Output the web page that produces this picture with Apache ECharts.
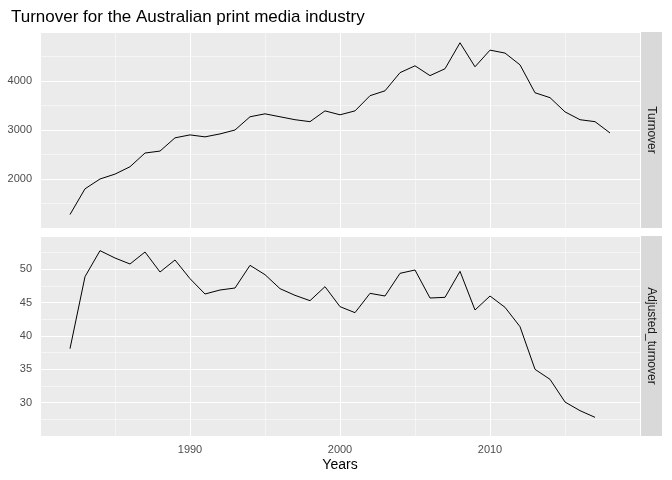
<!DOCTYPE html>
<html>
<head>
<meta charset="utf-8">
<script src="https://cdn.jsdelivr.net/npm/echarts@6/dist/echarts.min.js"></script>
<style>body{margin:0}#main{width:672px;height:480px}</style>
</head>
<body>
<div id="main"></div>
<script>
var yearsTop = [];
for (var y = 1982; y <= 2018; y++) yearsTop.push(y);
var turnover = [1275,1800,2000,2100,2250,2530,2570,2840,2900,2860,2920,3000,3270,3330,3270,3210,3170,3390,3310,3390,
  3700,3800,4170,4310,4110,4250,4780,4290,4630,4570,4330,3760,3660,3370,3210,3170,2940];
var adjusted = [38.1,48.9,52.8,51.7,50.8,52.6,49.6,51.4,48.6,46.3,46.9,47.2,50.6,49.2,47.1,46.1,45.3,47.4,44.4,43.5,
  46.4,46.0,49.4,49.9,45.7,45.8,49.7,43.9,46.0,44.3,41.4,35.0,33.5,30.1,28.8,27.8];

function pairs(xs, vs) { return vs.map(function (v, i) { return [xs[i], v]; }); }

var chart = echarts.init(document.getElementById('main'));
var lineMajor = {show: true, lineStyle: {color: '#fff', width: 1.1}};
var lineMinor = {show: true, lineStyle: {color: '#fff', width: 0.5}};
function xAxis(idx, showLabel) {
  return {
    type: 'value', gridIndex: idx, min: 1980, max: 2020, interval: 10,
    axisLine: {show: false}, axisTick: {show: false},
    minorTick: {show: false, splitNumber: 2}, minorSplitLine: lineMinor, splitLine: lineMajor,
    axisLabel: {show: showLabel, color: '#4d4d4d', fontSize: 11,
      formatter: function (v) { return (v == 1980 || v == 2020) ? '' : v; }},
    name: showLabel ? 'Years' : '', nameLocation: 'middle', nameGap: 22,
    nameTextStyle: {color: '#000', fontSize: 14}
  };
}
chart.setOption({
  animation: false,
  title: {text: 'Turnover for the Australian print media industry', left: 6, top: 4,
    textStyle: {color: '#000', fontSize: 17, fontWeight: 'normal'}},
  grid: [
    {left: 40, right: 32, top: 32, height: 196, backgroundColor: '#ebebeb', show: true, borderWidth: 0},
    {left: 40, right: 32, top: 236, height: 200, backgroundColor: '#ebebeb', show: true, borderWidth: 0}
  ],
  xAxis: [xAxis(0, false), xAxis(1, true)],
  yAxis: [
    {type: 'value', gridIndex: 0, min: 1000, max: 5000, interval: 1000,
      axisLine: {show: false}, axisTick: {show: false},
      minorTick: {show: false, splitNumber: 2}, minorSplitLine: lineMinor, splitLine: lineMajor,
      axisLabel: {color: '#4d4d4d', fontSize: 11, formatter: function (v) { return (v == 1000 || v == 5000) ? '' : v; }}},
    {type: 'value', gridIndex: 1, min: 25, max: 55, interval: 5,
      axisLine: {show: false}, axisTick: {show: false},
      minorTick: {show: false, splitNumber: 2}, minorSplitLine: lineMinor, splitLine: lineMajor,
      axisLabel: {color: '#4d4d4d', fontSize: 11, formatter: function (v) { return (v == 25 || v == 55) ? '' : v; }}}
  ],
  series: [
    {type: 'line', xAxisIndex: 0, yAxisIndex: 0, data: pairs(yearsTop, turnover), showSymbol: false,
      lineStyle: {color: '#000', width: 1}},
    {type: 'line', xAxisIndex: 1, yAxisIndex: 1, data: pairs(yearsTop, adjusted), showSymbol: false,
      lineStyle: {color: '#000', width: 1}}
  ],
  graphic: [
    {type: 'rect', shape: {x: 640, y: 32, width: 22, height: 196}, style: {fill: '#d9d9d9'}},
    {type: 'rect', shape: {x: 640, y: 236, width: 22, height: 200}, style: {fill: '#d9d9d9'}},
    {type: 'text', x: 651, y: 130, rotation: -Math.PI / 2,
      style: {text: 'Turnover', fill: '#1a1a1a', fontSize: 12, align: 'center', verticalAlign: 'middle'}},
    {type: 'text', x: 651, y: 336, rotation: -Math.PI / 2,
      style: {text: 'Adjusted_turnover', fill: '#1a1a1a', fontSize: 12, align: 'center', verticalAlign: 'middle'}}
  ]
});
</script>
</body>
</html>
